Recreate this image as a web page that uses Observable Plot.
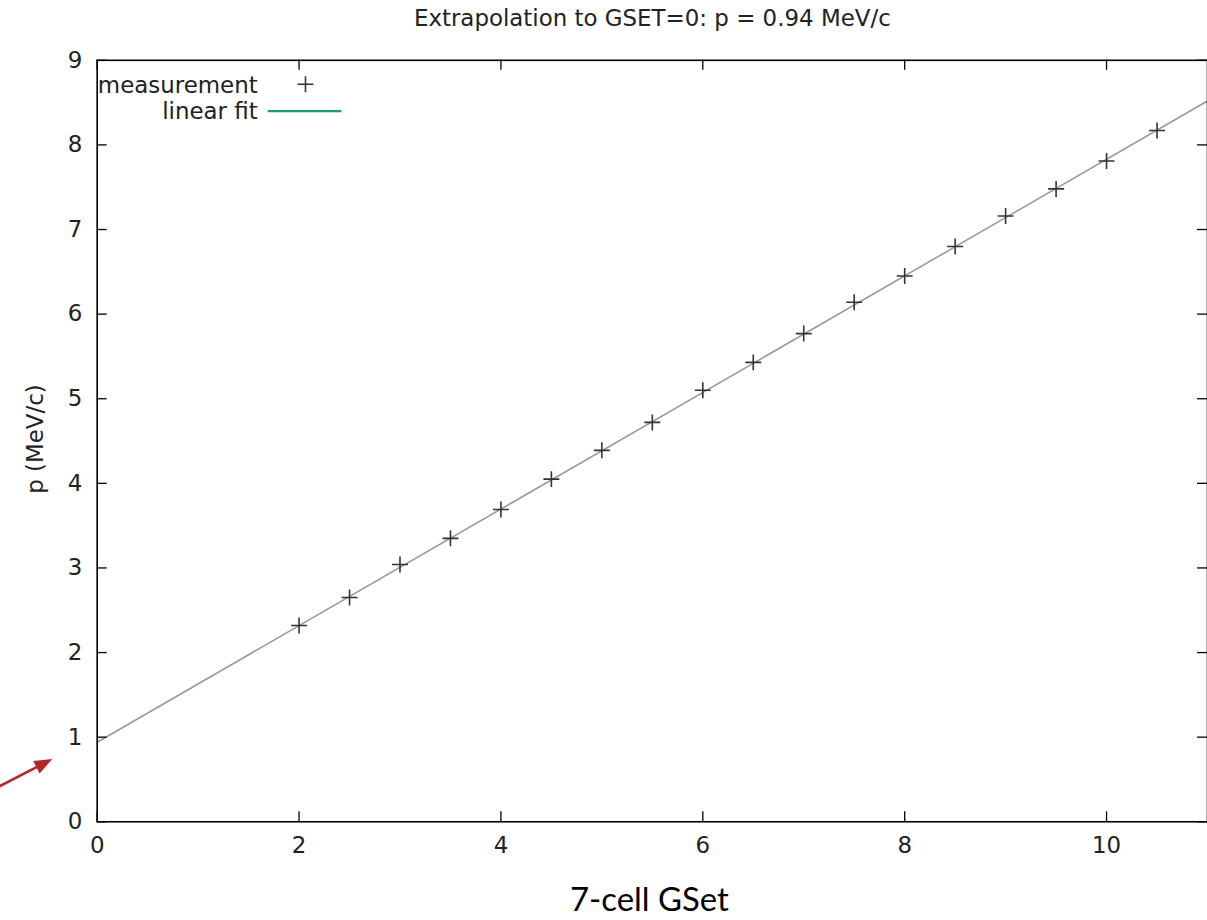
<!DOCTYPE html>
<html>
<head>
<meta charset="utf-8">
<script src="https://cdn.jsdelivr.net/npm/d3@7"></script>
<script src="https://cdn.jsdelivr.net/npm/@observablehq/plot@0.6"></script>
<style>
  html, body { margin: 0; padding: 0; background: #fff; overflow: hidden; }
  #chart { width: 1207px; height: 920px; overflow: hidden; }
</style>
</head>
<body>
<div id="chart"></div>
<script>
// Measured momentum vs. 7-cell gradient setting
const gset = [2, 2.5, 3, 3.5, 4, 4.5, 5, 5.5, 6, 6.5, 7, 7.5, 8, 8.5, 9, 9.5, 10, 10.5];
const momentum = [2.32, 2.65, 3.04, 3.35, 3.69, 4.05, 4.39, 4.72, 5.10, 5.43, 5.77, 6.14, 6.45, 6.80, 7.16, 7.48, 7.81, 8.17];

// Linear fit parameters (intercept is the extrapolated value at GSET = 0)
const fitIntercept = 0.94;
const fitSlope = 0.689;
const fitRange = [0, 11];

const xTicks = [0, 2, 4, 6, 8, 10];
const yTicks = [0, 1, 2, 3, 4, 5, 6, 7, 8, 9];
const xDomain = [0, 11];
const yDomain = [0, 9];

const titleText = "Extrapolation to GSET=0: p = 0.94 MeV/c";
const xLabel = "7-cell GSet";
const yLabel = "p (MeV/c)";
const legendLabels = ["measurement", "linear fit"];

// Annotation arrow pointing at the intercept
const arrowTail = {x: -1.0, y: 0.40};
const arrowTip = {x: -0.444, y: 0.742};

// Layout
const width = 1211, height = 920;
const marginLeft = 97, marginRight = 0, marginTop = 60, marginBottom = 96;
const frameW = width - marginLeft - marginRight;
const frameH = height - marginTop - marginBottom;
const tickLen = 10;

const points = gset.map((g, i) => ({gset: g, p: momentum[i]}));
const fitLine = fitRange.map(g => ({gset: g, p: fitIntercept + fitSlope * g}));

// Stroked "+" and legend line symbols
const crossSymbol = {
  draw(ctx, size) {
    const r = Math.sqrt(size / Math.PI);
    ctx.moveTo(-r, 0); ctx.lineTo(r, 0);
    ctx.moveTo(0, -r); ctx.lineTo(0, r);
  }
};
const dashSymbol = {
  draw(ctx, size) {
    const r = Math.sqrt(size / Math.PI);
    ctx.moveTo(-r, 0); ctx.lineTo(r, 0);
  }
};
// Filled arrowhead with its tip at the origin, pointing along +x
const headSymbol = {
  draw(ctx) {
    ctx.moveTo(0, 0); ctx.lineTo(-18, -7); ctx.lineTo(-18, 7); ctx.closePath();
  }
};

const kx = frameW / (xDomain[1] - xDomain[0]);
const ky = frameH / (yDomain[1] - yDomain[0]);
const arrowAngle = Math.atan2(-(arrowTip.y - arrowTail.y) * ky, (arrowTip.x - arrowTail.x) * kx) * 180 / Math.PI;
const shaftEnd = {
  x: arrowTail.x + 0.84 * (arrowTip.x - arrowTail.x),
  y: arrowTail.y + 0.84 * (arrowTip.y - arrowTail.y)
};

const ink = "#222";
const gpFont = "DejaVu Sans";
const gpSize = 23;

const chart = Plot.plot({
  width, height, marginLeft, marginRight, marginTop, marginBottom,
  style: {fontFamily: gpFont, fontSize: gpSize + "px", color: ink, background: "#fff", overflow: "visible"},
  x: {domain: xDomain, ticks: xTicks, tickSize: 0, tickPadding: 15, label: null},
  y: {domain: yDomain, ticks: yTicks, tickSize: 0, tickPadding: 15, label: null},
  marks: [
    // fit line
    Plot.line(fitLine, {x: "gset", y: "p", stroke: "#9a9a9a", strokeWidth: 1.6}),
    // measurements
    Plot.dot(points, {x: "gset", y: "p", symbol: crossSymbol, r: 8, fill: "none", stroke: "#333", strokeWidth: 1.6}),
    // inward ticks on all four sides
    Plot.tickX(xTicks, {x: d => d, insetTop: frameH - tickLen, stroke: "#000", strokeWidth: 1.3}),
    Plot.tickX(xTicks, {x: d => d, insetBottom: frameH - tickLen, stroke: "#000", strokeWidth: 1.3}),
    Plot.tickY(yTicks, {y: d => d, insetRight: frameW - tickLen, stroke: "#000", strokeWidth: 1.3}),
    Plot.tickY(yTicks, {y: d => d, insetLeft: frameW - tickLen, stroke: "#000", strokeWidth: 1.3}),
    Plot.frame({stroke: "#000", strokeWidth: 1.6}),
    // key
    Plot.text([legendLabels[0]], {frameAnchor: "top-left", textAnchor: "end", lineAnchor: "middle", dx: 161, dy: 25, fontSize: gpSize, fill: ink}),
    Plot.dot([legendLabels[0]], {frameAnchor: "top-left", dx: 209, dy: 24, symbol: crossSymbol, r: 8, fill: "none", stroke: "#333", strokeWidth: 1.6}),
    Plot.text([legendLabels[1]], {frameAnchor: "top-left", textAnchor: "end", lineAnchor: "middle", dx: 161, dy: 52, fontSize: gpSize, fill: ink}),
    Plot.dot([legendLabels[1]], {frameAnchor: "top-left", dx: 208, dy: 51, symbol: dashSymbol, r: 37, fill: "none", stroke: "#1a9e6e", strokeWidth: 2.2}),
    // title and axis labels
    Plot.text([titleText], {frameAnchor: "top", lineAnchor: "middle", dy: -42, fontSize: gpSize, fill: ink}),
    Plot.text([yLabel], {frameAnchor: "left", textAnchor: "middle", lineAnchor: "middle", rotate: -90, dx: -62, dy: -2, fontSize: gpSize, fill: ink}),
    Plot.text([xLabel], {frameAnchor: "bottom", lineAnchor: "middle", dx: -3, dy: 79, fontSize: 33, fontFamily: "Lato", fill: "#000"}),
    // arrow to the intercept
    Plot.link([{x1: arrowTail.x, y1: arrowTail.y, x2: shaftEnd.x, y2: shaftEnd.y}], {x1: "x1", y1: "y1", x2: "x2", y2: "y2", stroke: "#b5262c", strokeWidth: 2.6}),
    Plot.dot([arrowTip], {x: "x", y: "y", symbol: headSymbol, r: 1, fill: "#b5262c", stroke: "none", rotate: arrowAngle})
  ]
});

document.getElementById("chart").append(chart);
</script>
</body>
</html>
